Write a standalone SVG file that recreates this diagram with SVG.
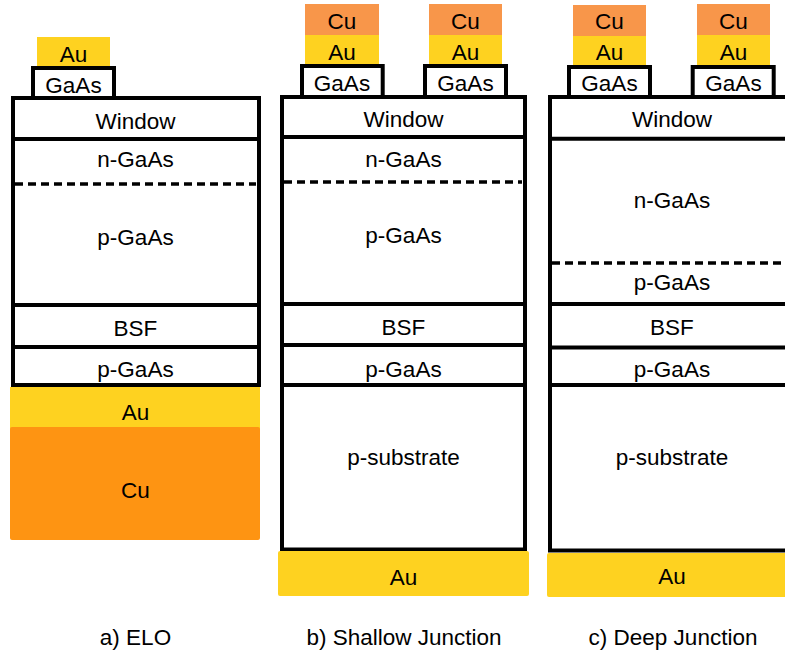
<svg xmlns="http://www.w3.org/2000/svg" width="785" height="655" viewBox="0 0 785 655">
<style>
text{font-family:"Liberation Sans",Arial,sans-serif;font-size:22.5px;fill:#000;text-anchor:middle}
.box{fill:#fff;stroke:#000;stroke-width:4}
.ln{stroke:#000;stroke-width:4;fill:none}
.dash{stroke:#000;stroke-width:3.5;stroke-dasharray:8 5;fill:none}
.au{fill:#FED220}
.cu{fill:#F8964A}
.cub{fill:#FE9412}
</style>
<rect width="785" height="655" fill="#fff"/>
<g id="panel-a">
  <g id="a-contact">
    <rect class="au" x="37" y="37" width="73" height="29"/>
    <text x="73.5" y="62">Au</text>
    <rect class="box" x="33" y="68" width="81" height="32"/>
    <text x="73.5" y="92.5">GaAs</text>
  </g>
  <g id="a-stack">
    <rect class="box" x="13" y="98" width="246" height="287"/>
    <line class="ln" x1="13" y1="139" x2="259" y2="139"/>
    <line class="dash" x1="15" y1="184" x2="256" y2="184"/>
    <line class="ln" x1="13" y1="305" x2="259" y2="305"/>
    <line class="ln" x1="13" y1="347" x2="259" y2="347"/>
    <text x="135.5" y="129">Window</text>
    <text x="135.5" y="167">n-GaAs</text>
    <text x="135.5" y="245">p-GaAs</text>
    <text x="135.5" y="335.5">BSF</text>
    <text x="135.5" y="377">p-GaAs</text>
  </g>
  <g id="a-metal">
    <rect class="au" x="10" y="387" width="250" height="42"/>
    <rect class="cub" x="10" y="427" width="250" height="113" rx="2"/>
    <text x="135.5" y="420">Au</text>
    <text x="135.5" y="498">Cu</text>
  </g>
  <text x="135.5" y="645">a) ELO</text>
</g>
<g id="panel-b">
  <g id="b-contact-1">
    <rect class="cu" x="305" y="4" width="74" height="31"/>
    <rect class="au" x="305" y="35" width="74" height="30"/>
    <text x="342" y="28.5">Cu</text>
    <text x="342" y="59.5">Au</text>
    <rect class="box" x="302" y="66" width="80.7" height="33"/>
    <text x="342" y="90.5">GaAs</text>
  </g>
  <g id="b-contact-2">
    <rect class="cu" x="429" y="4" width="73" height="31"/>
    <rect class="au" x="429" y="35" width="73" height="30"/>
    <text x="465.5" y="28.5">Cu</text>
    <text x="465.5" y="59.5">Au</text>
    <rect class="box" x="425" y="66" width="81" height="33"/>
    <text x="465.5" y="90.5">GaAs</text>
  </g>
  <g id="b-stack">
    <rect class="box" x="282" y="97" width="243" height="452.5"/>
    <line class="ln" x1="282" y1="137" x2="525" y2="137"/>
    <line class="dash" x1="284" y1="182" x2="522" y2="182"/>
    <line class="ln" x1="282" y1="304" x2="525" y2="304"/>
    <line class="ln" x1="282" y1="345" x2="525" y2="345"/>
    <line class="ln" x1="282" y1="385" x2="525" y2="385"/>
    <text x="403.5" y="126.5">Window</text>
    <text x="403.5" y="166.5">n-GaAs</text>
    <text x="403.5" y="243">p-GaAs</text>
    <text x="403.5" y="335">BSF</text>
    <text x="403.5" y="376.5">p-GaAs</text>
    <text x="403.5" y="465">p-substrate</text>
  </g>
  <g id="b-metal">
    <rect class="au" x="278" y="551" width="251" height="45" rx="2"/>
    <text x="403.5" y="585">Au</text>
  </g>
  <text x="404" y="645">b) Shallow Junction</text>
</g>
<g id="panel-c">
  <g id="c-contact-1">
    <rect class="cu" x="573" y="5" width="73" height="31"/>
    <rect class="au" x="573" y="36" width="73" height="30"/>
    <text x="609.5" y="28.5">Cu</text>
    <text x="609.5" y="60">Au</text>
    <rect class="box" x="569" y="67" width="81" height="32"/>
    <text x="609.5" y="91">GaAs</text>
  </g>
  <g id="c-contact-2">
    <rect class="cu" x="697" y="4" width="73" height="31"/>
    <rect class="au" x="697" y="35" width="73" height="30"/>
    <text x="733.5" y="28.5">Cu</text>
    <text x="733.5" y="59.5">Au</text>
    <rect class="box" x="692.7" y="67" width="81" height="32"/>
    <text x="733.5" y="91">GaAs</text>
  </g>
  <g id="c-stack">
    <rect class="box" x="550" y="97" width="250" height="453.5"/>
    <line class="ln" x1="550" y1="138.7" x2="800" y2="138.7"/>
    <line class="dash" x1="552" y1="263" x2="785" y2="263"/>
    <line class="ln" x1="550" y1="304" x2="800" y2="304"/>
    <line class="ln" x1="550" y1="347.5" x2="800" y2="347.5"/>
    <line class="ln" x1="550" y1="385" x2="800" y2="385"/>
    <text x="672" y="127">Window</text>
    <text x="672" y="208">n-GaAs</text>
    <text x="672" y="290">p-GaAs</text>
    <text x="672" y="335">BSF</text>
    <text x="672" y="376.5">p-GaAs</text>
    <text x="672" y="465">p-substrate</text>
  </g>
  <g id="c-metal">
    <rect class="au" x="547" y="553" width="260" height="44" rx="2"/>
    <text x="672" y="584">Au</text>
  </g>
  <text x="673" y="645">c) Deep Junction</text>
</g>
</svg>
